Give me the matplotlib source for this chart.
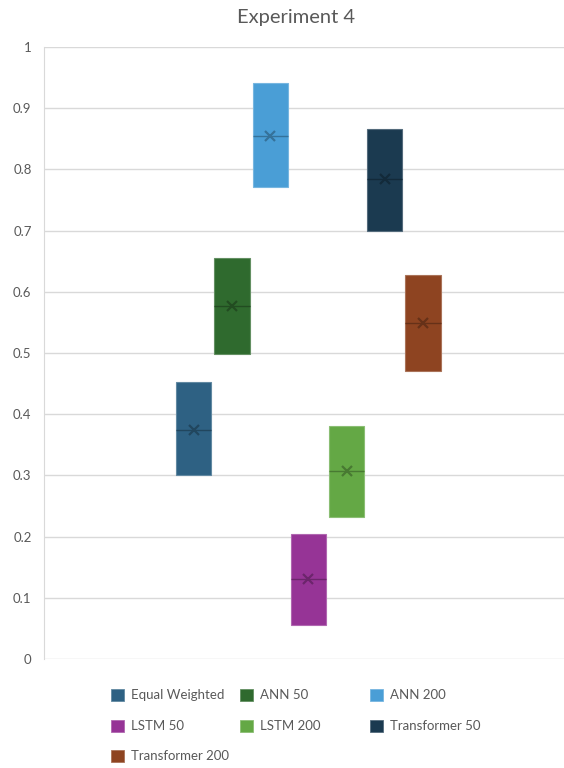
import matplotlib
matplotlib.use("Agg")
from matplotlib import pyplot as plt
from matplotlib.patches import Patch
from matplotlib.colors import to_rgb

# series names and box statistics
names = ['Equal Weighted', 'ANN 50', 'ANN 200', 'LSTM 50', 'LSTM 200', 'Transformer 50', 'Transformer 200']
q1 = [0.300, 0.498, 0.771, 0.056, 0.232, 0.699, 0.471]
q3 = [0.452, 0.656, 0.941, 0.204, 0.380, 0.866, 0.628]
medians = [0.375, 0.577, 0.855, 0.130, 0.307, 0.784, 0.549]
means = [0.375, 0.577, 0.855, 0.130, 0.307, 0.784, 0.549]
colors = ['#2E6183', '#2F6A2E', '#4A9ED6', '#963496', '#64A845', '#1B3A50', '#8E4421']
yticks = [0, 0.1, 0.2, 0.3, 0.4, 0.5, 0.6, 0.7, 0.8, 0.9, 1]

plt.rcParams['font.family'] = ['Lato', 'DejaVu Sans']
grey = '#595959'

def shade(c, f):  # darker / lighter version of a colour
    r, g, b = to_rgb(c)
    if f < 1:
        return (r * f, g * f, b * f)
    return (r + (1 - r) * (f - 1), g + (1 - g) * (f - 1), b + (1 - b) * (f - 1))

fig = plt.figure(figsize=(5.64, 7.68), dpi=100)
ax = fig.add_axes([44 / 564, 1 - 659 / 768, (572 - 44) / 564, (659 - 47) / 768])

stats = []
for i in range(len(names)):
    stats.append(dict(label=names[i], q1=q1[i], q3=q3[i], med=medians[i], mean=means[i],
                      whislo=q1[i], whishi=q3[i], fliers=[]))

positions = list(range(len(names)))
bp = ax.bxp(stats, positions=positions, widths=0.92, patch_artist=True, showmeans=True,
            showcaps=False, showfliers=False, manage_ticks=False)
for i, box in enumerate(bp['boxes']):
    box.set_facecolor(colors[i])
    box.set_edgecolor(shade(colors[i], 1.25))
    box.set_linewidth(0.8)
    bp['medians'][i].set_color(shade(colors[i], 0.72))
    bp['medians'][i].set_linewidth(1.0)
    m = bp['means'][i]
    m.set_marker('x')
    m.set_markersize(7.5)
    m.set_markeredgewidth(1.6)
    m.set_markeredgecolor(shade(colors[i], 0.72))
for w in bp['whiskers']:
    w.set_visible(False)

ax.set_xlim(-3.92, 9.9)
ax.set_ylim(0, 1)
ax.set_yticks(yticks)
ax.set_yticklabels(['0', '0.1', '0.2', '0.3', '0.4', '0.5', '0.6', '0.7', '0.8', '0.9', '1'])
ax.tick_params(axis='y', length=0, pad=9, labelsize=9.5, labelcolor=grey)
ax.set_xticks([])
ax.grid(axis='y', color='#D9D9D9', linewidth=1)
ax.set_axisbelow(True)
for s in ['top', 'right', 'bottom']:
    ax.spines[s].set_visible(False)
ax.spines['left'].set_color('#D9D9D9')

fig.text(296 / 564, 1 - 18 / 768, 'Experiment 4', ha='center', va='center', fontsize=14.5, color=grey)

# legend laid out row by row like the original
col_x = [111, 240, 370]
row_y = [695, 726, 756]
for i, name in enumerate(names):
    r, c = divmod(i, 3)
    h = Patch(facecolor=colors[i], edgecolor=shade(colors[i], 1.25), linewidth=0.6)
    fig.legend(handles=[h], labels=[name], loc='center left',
               bbox_to_anchor=(col_x[c] / 564, 1 - row_y[r] / 768), frameon=False,
               fontsize=9.5, labelcolor=grey, handlelength=1.0, handleheight=1.0,
               handletextpad=0.55, borderpad=0, borderaxespad=0)

fig.savefig('out.png', dpi=100)
